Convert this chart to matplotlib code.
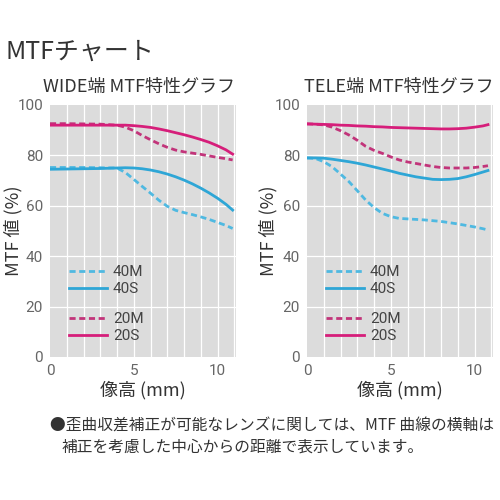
import matplotlib.pyplot as plt
from matplotlib.lines import Line2D

plt.rcParams['font.family'] = ['Noto Sans CJK JP', 'DejaVu Sans']

# image height (mm)
wide_x = [0, 1, 2, 3, 4, 4.5, 5, 5.5, 6, 6.5, 7, 7.5, 8, 8.5, 9, 9.5, 10, 10.5, 10.9]
wide_20s = [92, 92, 92, 92, 92, 92, 91.8, 91.5, 91.1, 90.5, 89.8, 89, 88.2, 87.3, 86.3, 85.2, 83.8, 82.2, 80.5]
wide_20m = [92.6, 92.6, 92.5, 92.4, 92, 91.2, 89.8, 87.9, 86.2, 84.6, 83.2, 82.1, 81.4, 80.9, 80.4, 79.8, 79.2, 78.7, 78.2]
wide_40s = [74.5, 74.6, 74.7, 74.8, 75, 75.1, 75, 74.7, 74.2, 73.5, 72.6, 71.5, 70.2, 68.7, 67, 65.1, 63, 60.6, 58.3]
wide_40m = [75.2, 75.2, 75.2, 75.1, 75, 73.2, 70.5, 67.7, 65, 62.2, 59.8, 58.2, 57.3, 56.5, 55.6, 54.6, 53.4, 52.2, 51]

tele_x = [0, 0.5, 1, 1.5, 2, 2.5, 3, 3.5, 4, 4.5, 5, 5.5, 6, 6.5, 7, 7.5, 8, 8.5, 9, 9.5, 10, 10.5, 10.8]
tele_20s = [92.5, 92.4, 92.3, 92.2, 92.0, 91.9, 91.7, 91.6, 91.4, 91.3, 91.1, 91.0, 90.9, 90.8, 90.7, 90.6, 90.5, 90.5, 90.6, 90.8, 91.2, 91.7, 92.2]
tele_20m = [92.5, 92.4, 92.1, 91.2, 89.8, 88.1, 86, 83.6, 82, 80.8, 79.4, 78.2, 77.4, 76.8, 76.2, 75.6, 75.2, 75, 75, 75, 75.2, 75.6, 75.9]
tele_40s = [79, 79, 78.9, 78.5, 78, 77.5, 76.9, 76.2, 75.4, 74.6, 73.8, 72.9, 72.2, 71.5, 71, 70.5, 70.4, 70.5, 70.8, 71.5, 72.4, 73.4, 74]
tele_40m = [79, 78.8, 77.5, 75.5, 72.6, 69.6, 66, 62.3, 59.3, 57, 55.7, 55, 54.8, 54.6, 54.4, 54.1, 53.8, 53.3, 52.8, 52.2, 51.6, 50.9, 50.4]

labels = ['40M', '40S', '20M', '20S']
colors = {'40M': '#4fb9e1', '40S': '#2ea6d6', '20M': '#c2347a', '20S': '#d61e7a'}
dash = (0, (2.2, 1.3))
styles = {'40M': dash, '40S': '-', '20M': dash, '20S': '-'}
LW = 2.0

fig = plt.figure(figsize=(5, 5), dpi=100)
ax_w = fig.add_axes([0.100, 0.286, 0.372, 0.504])
ax_t = fig.add_axes([0.614, 0.286, 0.372, 0.504])

panels = [
    (ax_w, wide_x, {'40M': wide_40m, '40S': wide_40s, '20M': wide_20m, '20S': wide_20s}, -0.150),
    (ax_t, tele_x, {'40M': tele_40m, '40S': tele_40s, '20M': tele_20m, '20S': tele_20s}, -0.160),
]

for ax, xs, series, ylab_x in panels:
    ax.set_facecolor('#dcdcdc')
    ax.set_xlim(0, 11.1)
    ax.set_ylim(0, 100)
    for v in range(1, 12):
        ax.axvline(v, color='white', lw=0.9, zorder=1)
    for v in [20, 40, 60, 80]:
        ax.axhline(v, color='white', lw=0.9, zorder=1)
    for name in ['40M', '40S', '20M', '20S']:
        ax.plot(xs, series[name], color=colors[name], linestyle=styles[name], lw=LW, zorder=3)
    for s in ax.spines.values():
        s.set_visible(False)
    ax.set_xticks([0, 5, 10])
    ax.set_yticks([0, 20, 40, 60, 80, 100])
    ax.tick_params(length=0, labelsize=11, labelcolor='#666666', pad=5)
    for lab in ax.get_xticklabels() + ax.get_yticklabels():
        lab.set_family(['Roboto', 'DejaVu Sans'])
    ax.set_xlabel('像高 (mm)', fontsize=13, color='#333333', labelpad=2)
    ax.set_ylabel('MTF 値 (%)', fontsize=13, color='#333333')
    ax.yaxis.set_label_coords(ylab_x, 0.5)

    h1 = [Line2D([], [], color=colors[n], linestyle=styles[n], lw=LW) for n in labels[:2]]
    h2 = [Line2D([], [], color=colors[n], linestyle=styles[n], lw=LW) for n in labels[2:]]
    leg_kw = dict(loc='upper left', frameon=False, borderpad=0, borderaxespad=0,
                  handlelength=2.5, handletextpad=0.4, labelspacing=0.2,
                  prop={'family': ['Roboto', 'DejaVu Sans'], 'size': 11}, labelcolor='#444444')
    leg1 = ax.legend(h1, labels[:2], bbox_to_anchor=(0.10, 0.365), **leg_kw)
    ax.add_artist(leg1)
    ax.legend(h2, labels[2:], bbox_to_anchor=(0.10, 0.178), **leg_kw)

fig.text(0.01, 0.896, 'MTFチャート', fontsize=18, color='#333333', va='center')
fig.text(0.278, 0.826, 'WIDE端 MTF特性グラフ', fontsize=13, color='#333333', ha='center', va='center')
fig.text(0.798, 0.826, 'TELE端 MTF特性グラフ', fontsize=13, color='#333333', ha='center', va='center')
fig.text(0.100, 0.150, '●歪曲収差補正が可能なレンズに関しては、MTF 曲線の横軸は',
         fontsize=11.3, color='#333333', va='center')
fig.text(0.124, 0.106, '補正を考慮した中心からの距離で表示しています。',
         fontsize=11.3, color='#333333', va='center')

fig.savefig('out.png', dpi=100, facecolor='white')
